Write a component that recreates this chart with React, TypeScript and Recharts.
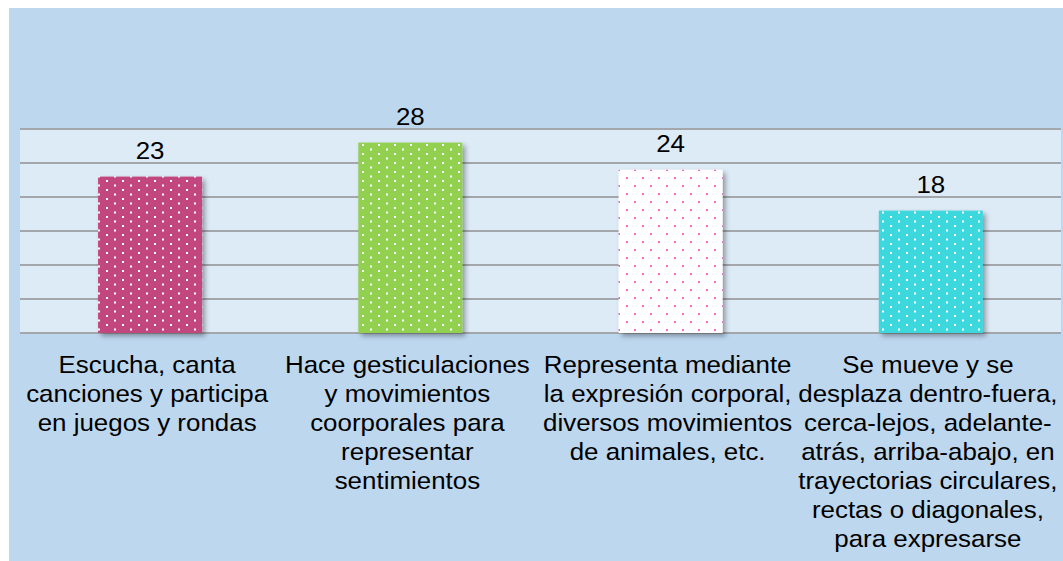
import { BarChart, Bar, XAxis, YAxis, CartesianGrid, LabelList, Cell } from "recharts";

const categories = [
  "Escucha, canta canciones y participa en juegos y rondas",
  "Hace gesticulaciones y movimientos coorporales para representar sentimientos",
  "Representa mediante la expresión corporal, diversos movimientos de animales, etc.",
  "Se mueve y se desplaza dentro-fuera, cerca-lejos, adelante-atrás, arriba-abajo, en trayectorias circulares, rectas o diagonales, para expresarse",
];

const tickLines = [
  ["Escucha, canta", "canciones y participa", "en juegos y rondas"],
  ["Hace gesticulaciones", "y movimientos", "coorporales para", "representar", "sentimientos"],
  ["Representa mediante", "la expresión corporal,", "diversos movimientos", "de animales, etc."],
  [
    "Se mueve y se",
    "desplaza dentro-fuera,",
    "cerca-lejos, adelante-",
    "atrás, arriba-abajo, en",
    "trayectorias circulares,",
    "rectas o diagonales,",
    "para expresarse",
  ],
];

const values = [23, 28, 24, 18];
const yTicks = [0, 5, 10, 15, 20, 25, 30];

const data = categories.map((name, i) => ({ name, value: values[i], idx: i }));

// bar fill + dot colour
const fills = [
  { bg: "#C2467F", dot: "#FFFFFF", w: 16, h: 9 },
  { bg: "#92D050", dot: "#FFFFFF", w: 16, h: 9 },
  { bg: "#FFFFFF", dot: "#FF66CC", w: 16, h: 16 },
  { bg: "#3CD7DE", dot: "#FFFFFF", w: 16, h: 9 },
];

const FONT = "'Liberation Sans', Arial, sans-serif";

function CategoryTick(props: any) {
  const { x, y, payload } = props;
  const lines = tickLines[payload.index] || [];
  return (
    <g transform={`translate(${x - 3},${y})`}>
      {lines.map((l, i) => (
        <text
          key={i}
          x={0}
          y={40 + i * 29}
          textAnchor="middle"
          fontSize={24}
          fontFamily={FONT}
          fill="#000"
          transform="scale(1.08,1)"
        >
          {l}
        </text>
      ))}
    </g>
  );
}

function ValueLabel(props: any) {
  const { x, y, width, value } = props;
  const cx = x + width / 2;
  return (
    <g transform={`translate(${cx},${y - 18})`}>
      <text x={0} y={0} textAnchor="middle" fontSize={24} fontFamily={FONT} fill="#000" transform="scale(1.08,1)">
        {value}
      </text>
    </g>
  );
}

function BarShape(props: any) {
  const { x, y, width, height, index } = props;
  return <rect x={x} y={y} width={width} height={height} fill={`url(#pat${index})`} filter="url(#barShadow)" />;
}

export default function App() {
  return (
    <div style={{ position: "fixed", left: 9, top: 8, width: 1054, height: 553, background: "#BDD7EE", overflow: "hidden" }}>
      <BarChart
        width={1054}
        height={553}
        data={data}
        margin={{ top: 121, right: 2, left: 11, bottom: 0 }}
        barCategoryGap="30%"
      >
        <defs>
          {fills.map((f, i) => (
            <pattern key={i} id={`pat${i}`} x={0} y={0} width={f.w} height={f.h} patternUnits="userSpaceOnUse">
              <rect x={0} y={0} width={f.w} height={f.h} fill={f.bg} />
              <rect x={1} y={1} width={2} height={2} fill={f.dot} />
              <rect x={1 + f.w / 2} y={1 + f.h / 2} width={2} height={2} fill={f.dot} />
            </pattern>
          ))}
          <filter id="barShadow" x="-10%" y="-10%" width="130%" height="130%">
            <feDropShadow dx={3} dy={3} stdDeviation={2.5} floodColor="#000" floodOpacity={0.35} />
          </filter>
        </defs>
        <CartesianGrid
          vertical={false}
          fill="#DDEBF7"
          fillOpacity={1}
          stroke="#A3A6AA"
          strokeWidth={2}
        />
        <YAxis hide domain={[0, 30]} ticks={yTicks} />
        <XAxis
          dataKey="name"
          axisLine={false}
          tickLine={false}
          tickSize={0}
          tickMargin={0}
          height={228}
          interval={0}
          tick={<CategoryTick />}
        />
        <Bar dataKey="value" isAnimationActive={false} shape={<BarShape />}>
          {data.map((d) => (
            <Cell key={d.idx} fill={`url(#pat${d.idx})`} />
          ))}
          <LabelList dataKey="value" content={<ValueLabel />} />
        </Bar>
      </BarChart>
    </div>
  );
}
